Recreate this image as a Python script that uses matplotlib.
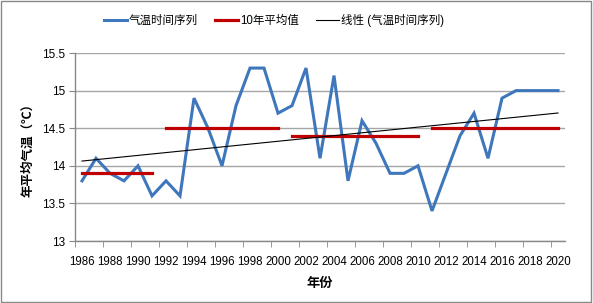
import numpy as np
import matplotlib
matplotlib.use("Agg")
import matplotlib.pyplot as plt
from matplotlib.patches import Rectangle

plt.rcParams['font.family'] = ['Liberation Sans', 'Noto Sans CJK SC']

years = list(range(1986, 2021))
temps = [13.8, 14.1, 13.9, 13.8, 14.0, 13.6, 13.8, 13.6, 14.9, 14.5,
         14.0, 14.8, 15.3, 15.3, 14.7, 14.8, 15.3, 14.1, 15.2, 13.8,
         14.6, 14.3, 13.9, 13.9, 14.0, 13.4, 13.9, 14.4, 14.7, 14.1,
         14.9, 15.0, 15.0, 15.0, 15.0]
avg_starts = [1986, 1992, 2001, 2011]
avg_ends = [1991, 2000, 2010, 2020]
avg_values = [13.9, 14.5, 14.4, 14.5]
tick_labels = [str(y) for y in range(1986, 2021, 2)]

x = np.arange(len(years))
fig = plt.figure(figsize=(5.93, 3.03), dpi=100)
ax = fig.add_axes([0.1265, 0.2046, 0.8263, 0.6204])

blue = '#3F77BC'
red = '#C00000'
l1, = ax.plot(x, temps, color=blue, lw=2.2, solid_joinstyle='miter', zorder=3)
l2 = None
for s, e, v in zip(avg_starts, avg_ends, avg_values):
    xs = [years.index(s), years.index(e)]
    l2, = ax.plot(xs, [v, v], color=red, lw=2.3, zorder=4)
coef = np.polyfit(x, temps, 1)
l3, = ax.plot(x, np.polyval(coef, x), color='black', lw=0.8, zorder=5)

ax.set_xlim(-0.5, len(years) - 0.5)
ax.set_ylim(13, 15.5)
ax.set_yticks([13, 13.5, 14, 14.5, 15, 15.5])
ax.set_yticklabels(['13', '13.5', '14', '14.5', '15', '15.5'], fontsize=8.5)
ax.set_xticks(np.arange(0, len(years), 2))
ax.set_xticklabels(tick_labels, fontsize=8.3)
ax.set_xticks(np.arange(-0.5, len(years), 2), minor=True)
ax.tick_params(axis='x', which='major', length=0, pad=11)
ax.tick_params(axis='x', which='minor', length=4, color='#888888')
ax.tick_params(axis='y', length=4, color='#888888', pad=3)
ax.grid(axis='y', color='#A6A6A6', lw=1)
ax.set_axisbelow(True)
for sp in ['top', 'right']:
    ax.spines[sp].set_visible(False)
for sp in ['left', 'bottom']:
    ax.spines[sp].set_color('#888888')
    ax.spines[sp].set_linewidth(1)

ax.set_xlabel('年份', fontsize=9.5, fontweight='bold', labelpad=7)
ax.set_ylabel('年平均气温（℃）', fontsize=9, fontweight='bold', labelpad=6)

fig.legend([l1, l2, l3], ['气温时间序列', '10年平均值', '线性 (气温时间序列)'],
           loc='center', bbox_to_anchor=(0.462, 0.932), ncol=3, frameon=False,
           fontsize=8.3, handlelength=2.0, handletextpad=0.15, columnspacing=1.5)

fig.add_artist(Rectangle((0.002, 0.003), 0.995, 0.993, transform=fig.transFigure,
                         fill=False, edgecolor='#888888', lw=1))
fig.savefig('out.png', dpi=100)
